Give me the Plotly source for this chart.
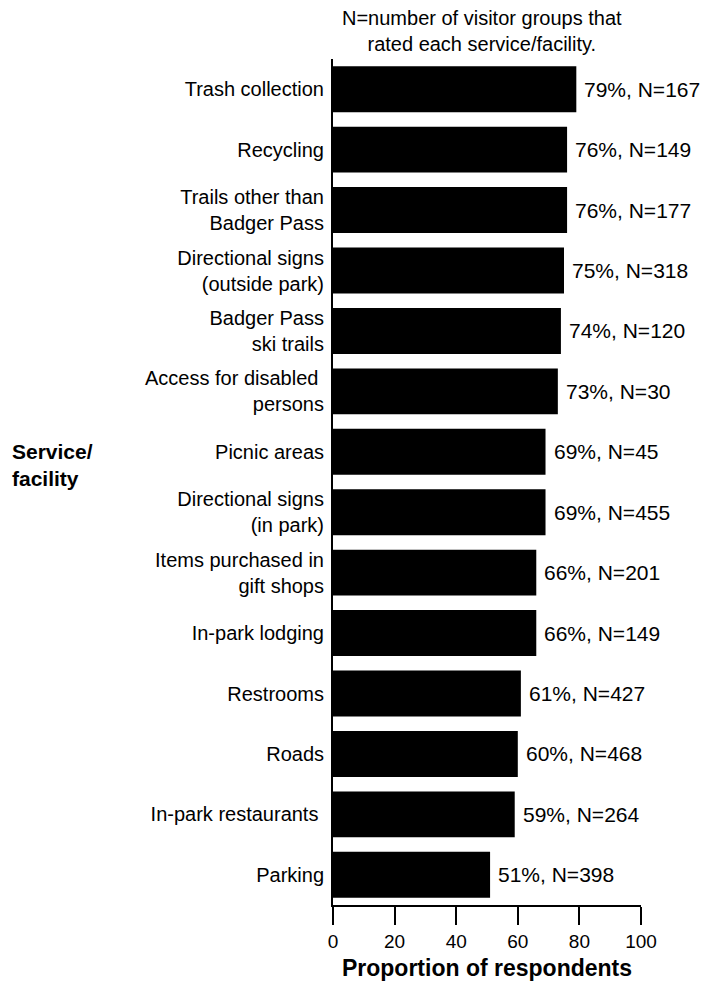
import plotly.graph_objects as go

# Service/facility ratings, listed top to bottom
facilities = [
    "Trash collection",
    "Recycling",
    "Trails other than<br>Badger Pass",
    "Directional signs<br>(outside park)",
    "Badger Pass<br>ski trails",
    "Access for disabled <br>persons",
    "Picnic areas",
    "Directional signs<br>(in park)",
    "Items purchased in<br>gift shops",
    "In-park lodging",
    "Restrooms",
    "Roads",
    "In-park restaurants ",
    "Parking",
]
proportions = [79, 76, 76, 75, 74, 73, 69, 69, 66, 66, 61, 60, 59, 51]
group_counts = [167, 149, 177, 318, 120, 30, 45, 455, 201, 149, 427, 468, 264, 398]
x_ticks = [0, 20, 40, 60, 80, 100]

FONT = "Liberation Sans, Arial, sans-serif"
labels = [f"{p}%, N={n}" for p, n in zip(proportions, group_counts)]

fig = go.Figure(
    go.Bar(
        x=proportions,
        y=facilities,
        orientation="h",
        marker=dict(color="black", line=dict(width=0)),
        width=0.76,
        hoverinfo="skip",
    )
)

# value labels just past the end of each bar
value_labels = [
    dict(
        text=lab, x=p, y=cat, xref="x", yref="y",
        xanchor="left", yanchor="middle", xshift=6,
        showarrow=False,
        font=dict(family=FONT, size=21, color="black"),
    )
    for lab, p, cat in zip(labels, proportions, facilities)
]

fig.update_layout(
    width=703,
    height=981,
    margin=dict(l=333, r=62, t=59, b=76, autoexpand=False),
    paper_bgcolor="white",
    plot_bgcolor="white",
    showlegend=False,
    font=dict(family=FONT, color="black"),
    xaxis=dict(
        range=[0, 100],
        tickvals=x_ticks,
        ticks="outside",
        ticklen=18,
        tickwidth=2,
        tickcolor="black",
        showline=True,
        linewidth=2,
        linecolor="black",
        showgrid=False,
        zeroline=False,
        automargin=False,
        tickfont=dict(family=FONT, size=19),
        title=dict(
            text="<b>Proportion of respondents</b>",
            font=dict(family=FONT, size=23),
            standoff=10,
        ),
    ),
    yaxis=dict(
        categoryorder="array",
        categoryarray=facilities,
        autorange="reversed",
        range=[13.5, -0.5],
        showline=True,
        linewidth=2,
        linecolor="black",
        ticks="",
        showgrid=False,
        zeroline=False,
        automargin=False,
        tickfont=dict(family=FONT, size=20),
        ticklabelstandoff=3,
    ),
    annotations=value_labels + [
        dict(
            text="N=number of visitor groups that<br>rated each service/facility.",
            xref="paper", yref="paper",
            x=0.484, y=1.0,
            xanchor="center", yanchor="bottom",
            yshift=2,
            showarrow=False,
            align="center",
            font=dict(family=FONT, size=20),
        ),
        dict(
            text="<b>Service/<br>facility</b>",
            xref="paper", yref="paper",
            x=-323 / 307.7, y=0.52,
            xanchor="left", yanchor="middle",
            showarrow=False,
            align="left",
            font=dict(family=FONT, size=21),
        ),
    ],
)

fig.write_html("out.html")
